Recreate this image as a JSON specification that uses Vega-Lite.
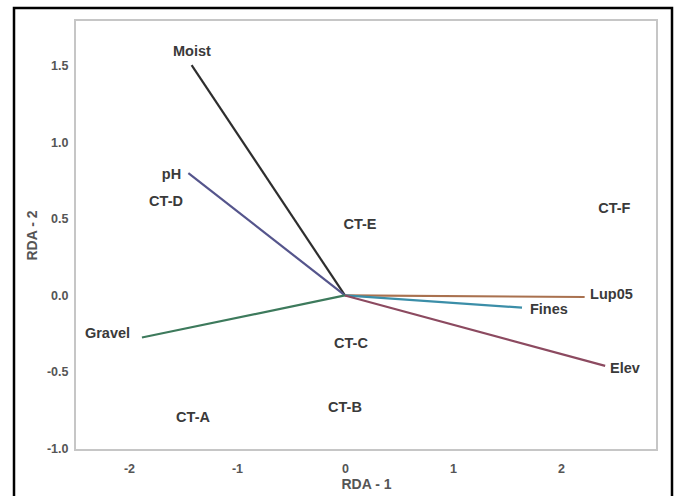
{
  "$schema": "https://vega.github.io/schema/vega-lite/v6.json",
  "width": 582,
  "height": 430,
  "autosize": "none",
  "padding": {"left": 75, "top": 20, "right": 21, "bottom": 46},
  "background": "white",
  "config": {
    "view": {"stroke": "#c6c6c6", "strokeWidth": 2},
    "font": "Liberation Sans",
    "axis": {
      "domain": false,
      "ticks": false,
      "grid": false,
      "labelFont": "Liberation Sans",
      "labelFontSize": 12.5,
      "labelFontWeight": "bold",
      "labelColor": "#555555",
      "titleFont": "Liberation Sans",
      "titleFontSize": 14,
      "titleFontWeight": "bold",
      "titleColor": "#555555"
    }
  },
  "datasets": {
    "vectors": [
      {"name": "Moist", "x": -1.42, "y": 1.505, "lx": -1.417, "ly": 1.59},
      {"name": "pH", "x": -1.45, "y": 0.8, "lx": -1.606, "ly": 0.79},
      {"name": "Gravel", "x": -1.88, "y": -0.275, "lx": -2.199, "ly": -0.249},
      {"name": "Lup05", "x": 2.22, "y": -0.01, "lx": 2.468, "ly": 0.0},
      {"name": "Fines", "x": 1.64, "y": -0.08, "lx": 1.889, "ly": -0.098},
      {"name": "Elev", "x": 2.41, "y": -0.46, "lx": 2.593, "ly": -0.478}
    ],
    "sites": [
      {"name": "CT-A", "x": -1.407, "y": -0.798},
      {"name": "CT-B", "x": 0.0, "y": -0.733},
      {"name": "CT-C", "x": 0.056, "y": -0.32},
      {"name": "CT-D", "x": -1.657, "y": 0.608},
      {"name": "CT-E", "x": 0.139, "y": 0.458},
      {"name": "CT-F", "x": 2.495, "y": 0.563}
    ]
  },
  "layer": [
    {
      "data": {"name": "vectors"},
      "mark": {"type": "rule", "strokeWidth": 2.2},
      "encoding": {
        "x": {
          "field": "x",
          "type": "quantitative",
          "scale": {"domain": [-2.5, 2.89], "nice": false, "zero": false},
          "axis": {
            "values": [-2, -1, 0, 1, 2],
            "labelExpr": "'' + datum.value",
            "title": "RDA - 1",
            "labelPadding": 12,
            "titlePadding": 3
          }
        },
        "y": {
          "field": "y",
          "type": "quantitative",
          "scale": {"domain": [-1.01, 1.8], "nice": false, "zero": false},
          "axis": {
            "values": [-1, -0.5, 0, 0.5, 1, 1.5],
            "labelExpr": "replace(format(datum.value, '.1f'), '\u2212', '-')",
            "title": "RDA - 2",
            "labelPadding": 7,
            "titlePadding": 7
          }
        },
        "x2": {"datum": 0},
        "y2": {"datum": 0},
        "color": {
          "field": "name",
          "type": "nominal",
          "legend": null,
          "scale": {
            "domain": ["Moist", "pH", "Gravel", "Lup05", "Fines", "Elev"],
            "range": ["#2e2e2e", "#55558c", "#3d7a5c", "#a9714f", "#3b8ea8", "#8c4a60"]
          }
        }
      }
    },
    {
      "data": {"name": "vectors"},
      "mark": {"type": "text", "fontSize": 14.5, "fontWeight": "bold", "color": "#3a3a3a", "align": "center", "baseline": "middle"},
      "encoding": {
        "x": {"field": "lx", "type": "quantitative"},
        "y": {"field": "ly", "type": "quantitative"},
        "text": {"field": "name"}
      }
    },
    {
      "data": {"name": "sites"},
      "mark": {"type": "text", "fontSize": 14.5, "fontWeight": "bold", "color": "#3a3a3a", "align": "center", "baseline": "middle"},
      "encoding": {
        "x": {"field": "x", "type": "quantitative"},
        "y": {"field": "y", "type": "quantitative"},
        "text": {"field": "name"}
      }
    },
    {
      "data": {"values": [{}]},
      "mark": {"type": "rect", "fill": "transparent", "stroke": "black", "strokeWidth": 2.5, "clip": false},
      "encoding": {
        "x": {"value": -61},
        "x2": {"value": 597},
        "y": {"value": -12},
        "y2": {"value": 492}
      }
    }
  ]
}
